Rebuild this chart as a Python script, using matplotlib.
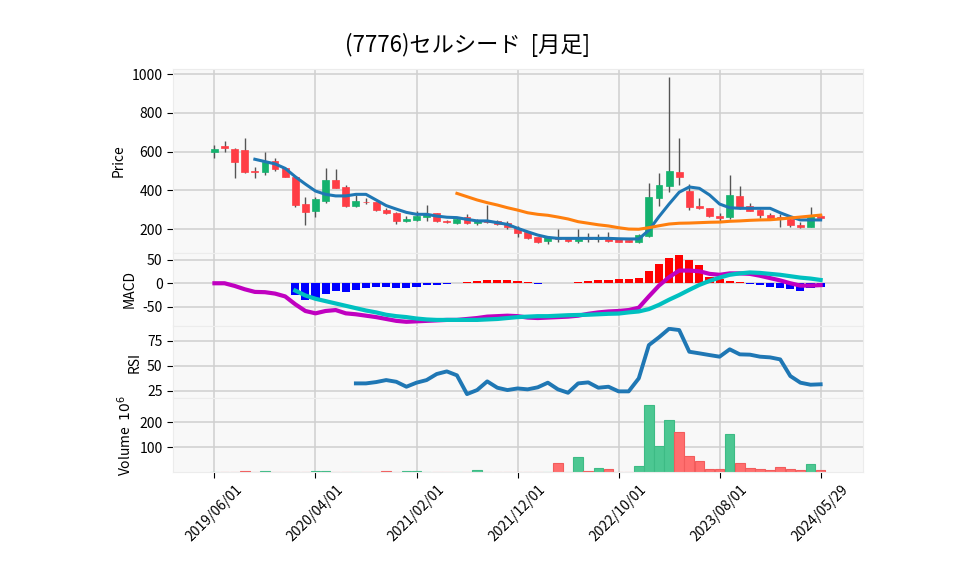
import matplotlib
matplotlib.use("Agg")
import matplotlib.pyplot as plt
import numpy as np

plt.rcParams["font.family"] = ["Noto Sans CJK JP", "DejaVu Sans"]
plt.rcParams["axes.unicode_minus"] = False

title = "(7776)セルシード  [月足]"
tick_labels = ["2019/06/01", "2020/04/01", "2021/02/01", "2021/12/01",
               "2022/10/01", "2023/08/01", "2024/05/29"]
tick_pos = [0, 10, 20, 30, 40, 50, 60]

# monthly OHLC (yen)
opens = [600, 630, 614, 608, 500, 497, 551, 514, 468, 330,
         296, 347, 454, 416, 318, 342, 342, 299, 285, 245,
         248, 265, 285, 244, 234, 262, 231, 244, 243, 234,
         205, 184, 158, 141, 156, 153, 138, 154, 152, 155,
         148, 144, 136, 167, 360, 423, 495, 397, 320, 308,
         268, 262, 372, 320, 299, 273, 262, 251, 222, 213, 268]
highs = [635, 655, 618, 669, 523, 597, 566, 520, 470, 368,
         368, 514, 509, 428, 377, 360, 343, 311, 290, 268,
         296, 325, 285, 250, 265, 279, 251, 325, 248, 244,
         217, 186, 162, 162, 200, 162, 200, 179, 177, 187,
         155, 146, 173, 440, 492, 984, 672, 433, 363, 310,
         285, 480, 423, 334, 305, 282, 279, 258, 239, 316, 278]
lows = [565, 597, 463, 489, 463, 480, 500, 468, 316, 222,
        265, 334, 414, 316, 316, 330, 296, 277, 227, 237,
        244, 244, 239, 232, 227, 227, 220, 231, 224, 203,
        162, 148, 127, 122, 136, 136, 131, 136, 136, 136,
        133, 133, 131, 162, 320, 394, 428, 299, 303, 265,
        239, 251, 303, 296, 256, 248, 213, 210, 205, 210, 254]
closes = [612, 617, 548, 497, 497, 549, 513, 471, 325, 291,
          356, 454, 414, 320, 346, 338, 299, 286, 244, 253,
          268, 279, 240, 235, 251, 231, 243, 236, 228, 210,
          180, 156, 136, 158, 152, 138, 151, 152, 154, 138,
          136, 136, 170, 365, 428, 500, 471, 316, 308, 266,
          260, 377, 316, 296, 272, 257, 258, 222, 214, 270, 258]
# volume in millions
volume = [3, 3, 3, 5, 3, 5, 3, 3, 3, 3,
          5, 4, 3, 3, 3, 3, 3, 5, 3, 5,
          5, 3, 3, 3, 3, 3, 9, 3, 3, 3,
          3, 3, 3, 3, 36, 3, 60, 5, 16, 12,
          3, 3, 25, 269, 105, 209, 161, 65, 45, 13,
          13, 153, 36, 17, 13, 9, 21, 13, 9, 33, 9]

# moving averages (from month 4 and month 24)
ma_short = [561, 549, 537, 514, 471, 433, 397, 380, 372, 372,
            380, 380, 351, 322, 304, 287, 277, 277, 268, 262,
            260, 251, 243, 243, 234, 225, 205, 187, 170, 158,
            153, 153, 153, 153, 153, 153, 151, 150, 150, 195,
            265, 330, 391, 418, 411, 377, 330, 311, 308, 308,
            308, 308, 285, 265, 248, 248, 248]
ma_long = [385, 368, 351, 337, 325, 311, 299, 285, 277, 272,
           263, 253, 239, 231, 223, 217, 208, 201, 200, 208,
           218, 227, 231, 232, 234, 236, 237, 241, 243, 246,
           248, 249, 253, 258, 263, 268, 273]

macd = [0, 0, -5.7, -12.8, -18.4, -19, -22, -28, -44.7, -59,
        -64, -59, -57, -64, -66, -69, -72, -76, -80, -82,
        -81, -80, -79, -78, -78, -76, -74, -71, -70, -69,
        -70, -73, -74, -73, -72, -71, -69, -65, -62, -60,
        -59, -57, -52, -28, -5, 13, 27, 27, 25.5, 20,
        18, 21, 21, 20, 16, 11, 6, 0, -5, -5, -4]
signal = [-15.6, -26, -33, -38, -43, -48, -53, -58, -62, -67,
          -70, -72, -75, -77, -78, -78, -78, -78, -78, -77,
          -76, -74, -72, -71, -70, -70, -69, -68, -67.5, -67,
          -66, -65, -64.5, -62, -60, -55, -46, -35, -25, -14,
          -3.5, 5, 12, 18, 21, 23, 22, 20, 18, 15,
          12, 10, 7]
hist = [-26, -35, -33, -23, -16, -18, -14, -11, -9, -9,
        -11, -11, -7, -3, -3, -1.4, 0, 2, 4, 6,
        6, 6, 5, 3, -1.4, 0, 0, 0, 2, 4,
        6, 6, 8.5, 8.5, 11, 26, 41, 54, 60, 50,
        39, 14, 8.5, 5, 2, -1, -4, -9, -11, -13,
        -16, -11, -8.5]
rsi = [32.5, 32.5, 33.8, 35.8, 34.1, 29.2, 33.2, 35.8, 41.8, 44.4,
       40.5, 21.9, 25.9, 34.5, 28.2, 25.9, 27.5, 26.6, 28.6, 33.2,
       26.6, 23.2, 32.5, 33.5, 28.2, 29.2, 24.6, 24.6, 37.5, 70.5,
       78.2, 86.7, 85.4, 63.9, 62.3, 60.6, 59, 66.3, 61.3, 61,
       59, 58.3, 56.3, 39.8, 33.2, 31.2, 31.6]

o = np.array(opens, float)
c = np.array(closes, float)
x = np.arange(len(opens))
up = c >= o
candle_col = np.where(up, "#14b26e", "#ff3d45")
vol_col = np.where(up, "#4cc792", "#ff6e6e")
vol_edge = np.where(up, "#3dbb85", "#f25c5c")

fig = plt.figure(figsize=(9.58, 5.75), dpi=100)
left, width = 0.1806, 0.7203
ax_p = fig.add_axes([left, 0.5605, width, 0.319])
ax_m = fig.add_axes([left, 0.433, width, 0.1275], sharex=ax_p)
ax_r = fig.add_axes([left, 0.3078, width, 0.1252], sharex=ax_p)
ax_v = fig.add_axes([left, 0.1786, width, 0.1292], sharex=ax_p)

for ax in (ax_p, ax_m, ax_r, ax_v):
    ax.set_facecolor("#f8f8f8")
    ax.grid(True, color="#cfcfcf", lw=1.1)
    ax.set_axisbelow(True)
    for s in ax.spines.values():
        s.set_color("#ececec")
    ax.tick_params(labelsize=10, length=4, color="black")

# price panel
ax_p.vlines(x, lows, highs, color="#555555", lw=1, zorder=2)
ax_p.bar(x, np.maximum(np.abs(c - o), 2.5), bottom=np.minimum(o, c), width=0.68,
         color=candle_col, edgecolor=candle_col, lw=0.5, zorder=3)
ax_p.plot(x[4:], ma_short, color="#1f77b4", lw=2.2, zorder=4)
ax_p.plot(x[24:], ma_long, color="#ff7f0e", lw=2.2, zorder=4)
ax_p.set_ylim(79, 1025)
ax_p.set_yticks([200, 400, 600, 800, 1000])
ax_p.set_ylabel("Price", fontsize=10)

# MACD panel
ax_m.bar(x[8:], hist, width=0.8, color=["red" if h >= 0 else "blue" for h in hist], zorder=2)
ax_m.plot(x, macd, color="#c000c0", lw=3, zorder=3)
ax_m.plot(x[8:], signal, color="#00c0c0", lw=3, zorder=4)
ax_m.set_ylim(-91, 65)
ax_m.set_yticks([-50, 0, 50])
ax_m.set_ylabel("MACD", fontsize=10)

# RSI panel
ax_r.plot(x[14:], rsi, color="#1f77b4", lw=2.8)
ax_r.set_ylim(18, 89.4)
ax_r.set_yticks([25, 50, 75])
ax_r.set_ylabel("RSI", fontsize=10)

# volume panel
ax_v.bar(x, volume, width=0.95, color=vol_col, edgecolor=vol_edge, lw=0.8)
ax_v.set_ylim(0, 297)
ax_v.set_yticks([100, 200])
ax_v.set_ylabel("Volume  $10^6$", fontsize=10)

ax_p.set_xlim(-4.1, 64.2)
ax_v.set_xticks(tick_pos)
ax_v.set_xticklabels(tick_labels, rotation=45, ha="center")
for ax in (ax_p, ax_m, ax_r):
    ax.tick_params(axis="x", labelbottom=False, length=0)

fig.text(468 / 958, 1 - 45 / 575, title, ha="center", va="center", fontsize=16)

fig.savefig("out.png", dpi=100)
